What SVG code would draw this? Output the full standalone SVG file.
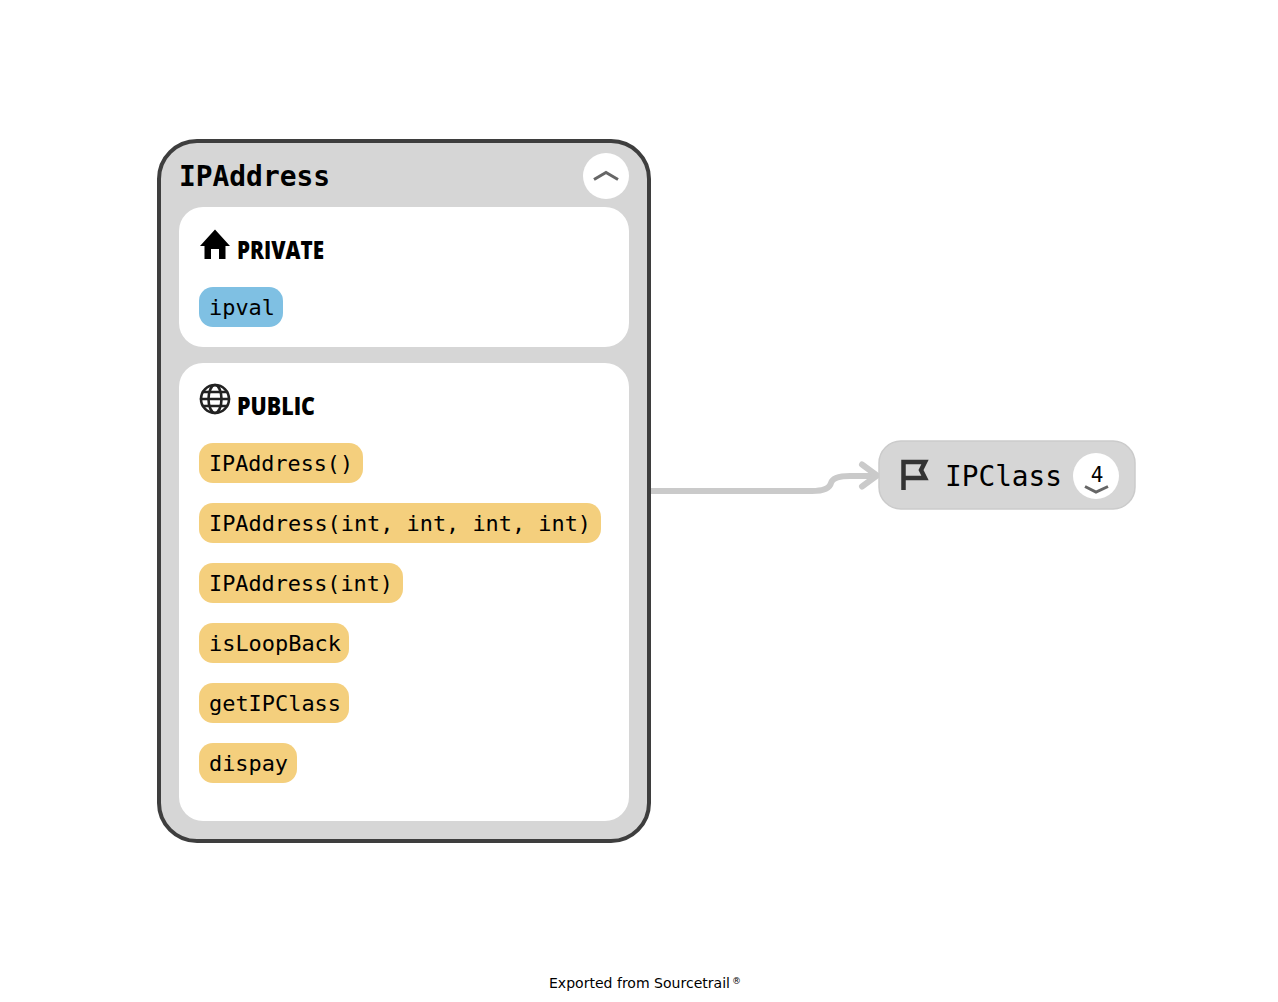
<svg xmlns="http://www.w3.org/2000/svg" width="1278" height="1002" viewBox="0 0 1278 1002">
<style>
.m{font-family:"DejaVu Sans Mono","Liberation Mono",monospace;font-size:22px;fill:#000}
.h{font-family:"Open Sans","Noto Sans",sans-serif;font-size:24px;font-weight:800;fill:#000}
.f{fill:#f4cf7d}.b{fill:#7fc0e3}
.ic{fill:none;stroke:#222;stroke-linecap:round}
.ch{fill:none;stroke:#666;stroke-width:3}
.cn{fill:none;stroke:#cacaca;stroke-width:6}
</style>
<rect width="1278" height="1002" fill="#fff"/>
<g id="connectors"><path class="cn" d="M650 491H812Q829 491 831 483Q833 476 850 476H875"/><path class="cn" d="M862 464.500L877 475.500L862 486.500" stroke-linecap="round" stroke-linejoin="round"/></g>
<g id="node-IPAddress">
<rect x="159" y="141" width="490" height="700" rx="38" fill="#d6d6d6" stroke="#3e3e3e" stroke-width="4"/>
<text x="179" y="186" class="m" font-weight="700" style="font-size:27.700px" textLength="151" lengthAdjust="spacingAndGlyphs">IPAddress</text>
<circle cx="606" cy="176" r="23" fill="#fff"/>
<path class="ch" d="M594 179.500L606 172.500L618 179.500"/>
</g>
<g id="group-private">
<rect x="179" y="207" width="450" height="140" rx="24" fill="#fff"/>
<path d="M215 229.500L230 246H225.500V259H219V249H211V259H204.500V246H200Z" fill="#000"/>
<text x="237" y="259" class="h" textLength="87" lengthAdjust="spacingAndGlyphs">PRIVATE</text>
</g>
<g id="node-ipval"><rect x="199" y="287" width="84" height="40" rx="14" class="b"/><text x="209" y="315" class="m" textLength="66" lengthAdjust="spacingAndGlyphs">ipval</text></g>
<g id="group-public">
<rect x="179" y="363" width="450" height="458" rx="24" fill="#fff"/>
<g class="ic" stroke-width="2.600"><circle cx="215" cy="399" r="14"/><ellipse cx="215" cy="399" rx="6.500" ry="14"/><path d="M201 399H229M203 392H227M203 406H227"/></g>
<text x="237" y="415" class="h" textLength="78" lengthAdjust="spacingAndGlyphs">PUBLIC</text>
</g>
<g id="node-ctor0"><rect x="199" y="443" width="164" height="40" rx="14" class="f"/><text x="209" y="471" class="m" textLength="144" lengthAdjust="spacingAndGlyphs">IPAddress()</text></g>
<g id="node-ctor4"><rect x="199" y="503" width="402" height="40" rx="14" class="f"/><text x="209" y="531" class="m" textLength="382" lengthAdjust="spacingAndGlyphs">IPAddress(int, int, int, int)</text></g>
<g id="node-ctor1"><rect x="199" y="563" width="204" height="40" rx="14" class="f"/><text x="209" y="591" class="m" textLength="184" lengthAdjust="spacingAndGlyphs">IPAddress(int)</text></g>
<g id="node-isLoopBack"><rect x="199" y="623" width="150" height="40" rx="14" class="f"/><text x="209" y="651" class="m" textLength="132" lengthAdjust="spacingAndGlyphs">isLoopBack</text></g>
<g id="node-getIPClass"><rect x="199" y="683" width="150" height="40" rx="14" class="f"/><text x="209" y="711" class="m" textLength="132" lengthAdjust="spacingAndGlyphs">getIPClass</text></g>
<g id="node-dispay"><rect x="199" y="743" width="98" height="40" rx="14" class="f"/><text x="209" y="771" class="m" textLength="79" lengthAdjust="spacingAndGlyphs">dispay</text></g>
<g id="node-IPClass">
<rect x="879" y="441" width="256" height="68" rx="22" fill="#d6d6d6" stroke="#cbcbcb" stroke-width="1.500"/>
<path d="M903.500 490V462H925L921 470L925 478H905" fill="none" stroke="#333" stroke-width="4.500"/>
<text x="945" y="486" class="m" style="font-size:28px" textLength="117" lengthAdjust="spacingAndGlyphs">IPClass</text>
<circle cx="1096" cy="476" r="23" fill="#fff"/>
<text x="1097" y="482" text-anchor="middle" class="m" style="font-size:21px">4</text>
<path class="ch" d="M1085 486.500L1096 492L1108 486.500"/>
</g>
<text x="549" y="988" font-family="DejaVu Sans,sans-serif" font-size="14" fill="#000" textLength="181" lengthAdjust="spacingAndGlyphs">Exported from Sourcetrail</text>
<text x="732" y="984" font-family="DejaVu Sans,sans-serif" font-size="9" fill="#000">®</text>
</svg>
